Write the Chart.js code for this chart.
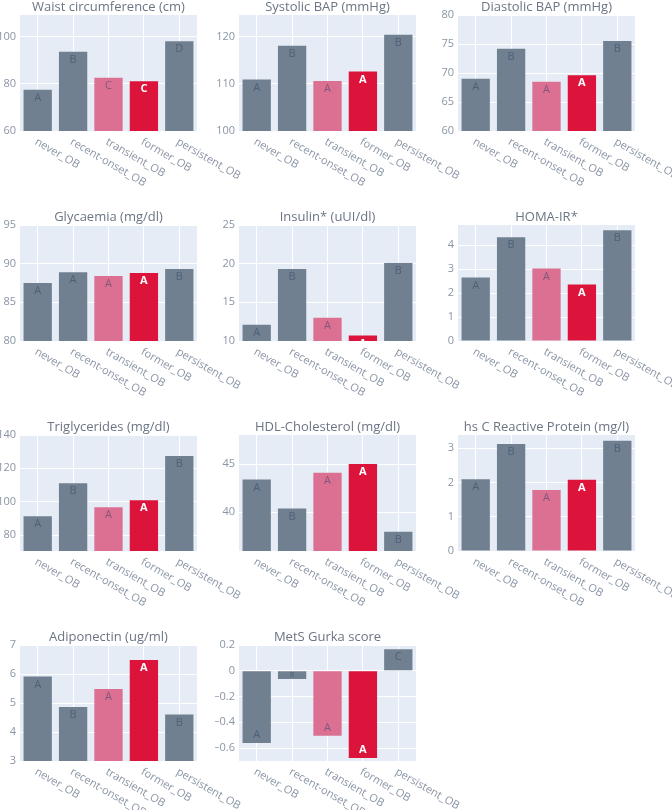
<!DOCTYPE html>
<html>
<head>
<meta charset="utf-8">
<script src="https://cdn.jsdelivr.net/npm/chart.js@4.4.1/dist/chart.umd.min.js"></script>
<style>
  body { margin: 0; background: #fff; }
  #wrap { position: relative; width: 672px; height: 810px; overflow: hidden; }
  #wrap canvas { position: absolute; }
</style>
</head>
<body>
<div id="wrap"></div>
<script>
const categories = ["never_OB", "recent-onset_OB", "transient_OB", "former_OB", "persistent_OB"];
const barColors = ["#708090", "#708090", "#DB7093", "#DC143C", "#708090"];

const waistValues = [77.5, 93.7, 82.6, 81.1, 98.1];
const waistLetters = ["A", "B", "C", "C", "D"];
const waistTicks = [60, 80, 100];
const systolicValues = [110.9, 118.1, 110.6, 112.6, 120.4];
const systolicLetters = ["A", "B", "A", "A", "B"];
const systolicTicks = [100, 110, 120];
const diastolicValues = [69.0, 74.2, 68.5, 69.6, 75.5];
const diastolicLetters = ["A", "B", "A", "A", "B"];
const diastolicTicks = [60, 65, 70, 75, 80];
const glycaemiaValues = [87.5, 88.9, 88.4, 88.8, 89.3];
const glycaemiaLetters = ["A", "A", "A", "A", "B"];
const glycaemiaTicks = [80, 85, 90, 95];
const insulinValues = [12.1, 19.3, 13.0, 10.7, 20.1];
const insulinLetters = ["A", "B", "A", "A", "B"];
const insulinTicks = [10, 15, 20, 25];
const homaValues = [2.65, 4.33, 3.03, 2.36, 4.62];
const homaLetters = ["A", "B", "A", "A", "B"];
const homaTicks = [0, 1, 2, 3, 4];
const trigValues = [91.2, 111.0, 96.6, 100.8, 127.4];
const trigLetters = ["A", "B", "A", "A", "B"];
const trigTicks = [80, 100, 120, 140];
const hdlValues = [43.4, 40.4, 44.1, 45.0, 38.0];
const hdlLetters = ["A", "B", "A", "A", "B"];
const hdlTicks = [40, 45];
const crpValues = [2.10, 3.13, 1.78, 2.08, 3.22];
const crpLetters = ["A", "B", "A", "A", "B"];
const crpTicks = [0, 1, 2, 3];
const adipoValues = [5.91, 4.86, 5.48, 6.48, 4.60];
const adipoLetters = ["A", "B", "A", "A", "B"];
const adipoTicks = [3, 4, 5, 6, 7];
const metsValues = [-0.56, -0.064, -0.505, -0.677, 0.167];
const metsLetters = ["A", "B", "A", "A", "C"];
const metsTicks = [-0.6, -0.4, -0.2, 0, 0.2];

// title, values, letters, ticks, y range, grid cell
const panels = [
  { title: "Waist circumference (cm)", values: waistValues, letters: waistLetters, ticks: waistTicks, min: 60, max: 109.3, col: 0, row: 0 },
  { title: "Systolic BAP (mmHg)", values: systolicValues, letters: systolicLetters, ticks: systolicTicks, min: 100, max: 124.6, col: 1, row: 0 },
  { title: "Diastolic BAP (mmHg)", values: diastolicValues, letters: diastolicLetters, ticks: diastolicTicks, min: 60, max: 80, col: 2, row: 0 },
  { title: "Glycaemia (mg/dl)", values: glycaemiaValues, letters: glycaemiaLetters, ticks: glycaemiaTicks, min: 80, max: 95, col: 0, row: 1 },
  { title: "Insulin* (uUI/dl)", values: insulinValues, letters: insulinLetters, ticks: insulinTicks, min: 10, max: 25, col: 1, row: 1 },
  { title: "HOMA-IR*", values: homaValues, letters: homaLetters, ticks: homaTicks, min: 0, max: 4.84, col: 2, row: 1 },
  { title: "Triglycerides (mg/dl)", values: trigValues, letters: trigLetters, ticks: trigTicks, min: 70.4, max: 140, col: 0, row: 2 },
  { title: "HDL-Cholesterol (mg/dl)", values: hdlValues, letters: hdlLetters, ticks: hdlTicks, min: 36, max: 48, col: 1, row: 2 },
  { title: "hs C Reactive Protein (mg/l)", values: crpValues, letters: crpLetters, ticks: crpTicks, min: 0, max: 3.39, col: 2, row: 2 },
  { title: "Adiponectin (ug/ml)", values: adipoValues, letters: adipoLetters, ticks: adipoTicks, min: 3, max: 7, col: 0, row: 3 },
  { title: "MetS Gurka score", values: metsValues, letters: metsLetters, ticks: metsTicks, min: -0.70, max: 0.2, col: 1, row: 3 }
];

const colLeft = [20, 239, 458];
const rowTop = [15, 225, 435, 645];
const plotW = 177, plotH = 116;
const yAxisW = 24, padTop = 18, padRight = 80, padBottom = 75;
const FONT = "'Open Sans', 'DejaVu Sans', sans-serif";

const panelDecor = {
  id: "panelDecor",
  beforeDraw(chart) {
    const a = chart.chartArea, ctx = chart.ctx;
    ctx.save();
    ctx.fillStyle = "#E5ECF6";
    ctx.fillRect(a.left, a.top, a.right - a.left, a.bottom - a.top);
    ctx.restore();
  },
  afterDraw(chart) {
    const a = chart.chartArea, ctx = chart.ctx;
    const xs = chart.scales.x;
    ctx.save();
    // title
    ctx.fillStyle = "#6b7584";
    ctx.font = "13px " + FONT;
    ctx.textAlign = "center";
    ctx.textBaseline = "middle";
    ctx.fillText(chart.options.plugins.panelDecor.title, (a.left + a.right) / 2, a.top - 8);
    // rotated category labels
    ctx.fillStyle = "#8a95a5";
    ctx.font = "11px " + FONT;
    ctx.textAlign = "left";
    chart.data.labels.forEach((lab, i) => {
      const x = xs.getPixelForTick(i);
      ctx.save();
      ctx.translate(x - 2, a.bottom + 10);
      ctx.rotate(Math.PI / 6);
      ctx.fillText(lab, 0, 0);
      ctx.restore();
    });
    ctx.restore();
  },
  afterDatasetsDraw(chart) {
    const ctx = chart.ctx;
    const letters = chart.options.plugins.panelDecor.letters;
    const meta = chart.getDatasetMeta(0);
    meta.data.forEach((bar, i) => {
      const h = Math.abs(bar.base - bar.y);
      const up = bar.y < bar.base;
      const size = Math.min(11, h * 0.85);
      let cy;
      if (h < 16) cy = (bar.y + bar.base) / 2;
      else cy = up ? bar.y + 8 : bar.y - 8;
      const former = i === 3;
      ctx.save();
      ctx.beginPath();
      ctx.rect(bar.x - bar.width / 2, Math.min(bar.y, bar.base), bar.width, h);
      ctx.clip();
      ctx.font = (former ? "bold " : "") + size.toFixed(1) + "px " + FONT;
      ctx.fillStyle = former ? "#ffffff" : "rgba(42,63,95,0.5)";
      ctx.textAlign = "center";
      ctx.textBaseline = "middle";
      ctx.fillText(letters[i], bar.x, cy);
      ctx.restore();
    });
  }
};

function fmt(v) {
  const r = Math.round(v * 10) / 10;
  return String(r).replace("-", "\u2212");
}

const wrap = document.getElementById("wrap");
panels.forEach(p => {
  const canvas = document.createElement("canvas");
  const w = yAxisW + plotW + padRight;
  const h = padTop + plotH + padBottom;
  canvas.width = w;
  canvas.height = h;
  canvas.style.width = w + "px";
  canvas.style.height = h + "px";
  canvas.style.left = (colLeft[p.col] - yAxisW) + "px";
  canvas.style.top = (rowTop[p.row] - padTop) + "px";
  wrap.appendChild(canvas);

  new Chart(canvas.getContext("2d"), {
    type: "bar",
    data: {
      labels: categories,
      datasets: [{
        data: p.values,
        backgroundColor: barColors,
        borderWidth: 0,
        barPercentage: 0.8,
        categoryPercentage: 1.0
      }]
    },
    options: {
      responsive: false,
      animation: false,
      devicePixelRatio: 1,
      layout: { padding: { top: padTop, right: padRight, bottom: padBottom, left: 0 } },
      plugins: {
        legend: { display: false },
        tooltip: { enabled: false },
        panelDecor: { title: p.title, letters: p.letters }
      },
      scales: {
        x: {
          grid: { color: "#ffffff", lineWidth: 1, offset: false, drawTicks: false },
          border: { display: false },
          ticks: { display: false },
          afterFit(scale) { scale.height = 0; }
        },
        y: {
          min: p.min,
          max: p.max,
          grid: { color: "#ffffff", lineWidth: 1, drawTicks: false },
          border: { display: false },
          ticks: {
            autoSkip: false,
            padding: 4,
            color: "#8a95a5",
            font: { family: FONT, size: 11 },
            callback: v => fmt(v)
          },
          afterBuildTicks(scale) {
            scale.ticks = p.ticks.map(v => ({ value: v }));
          },
          afterFit(scale) { scale.width = yAxisW; }
        }
      }
    },
    plugins: [panelDecor]
  });
});
</script>
</body>
</html>
